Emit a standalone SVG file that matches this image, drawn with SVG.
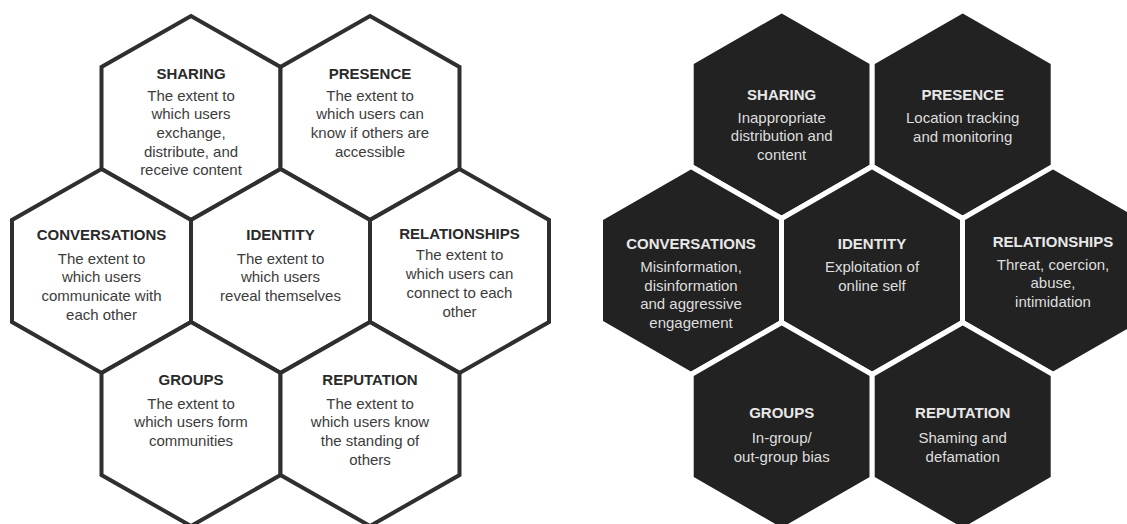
<svg xmlns="http://www.w3.org/2000/svg" xmlns:xlink="http://www.w3.org/1999/xlink" width="1127" height="524" viewBox="0 0 1127 524">
  <style>
    .hexL { fill: #ffffff; stroke: #2f2f2f; stroke-width: 4; stroke-linejoin: miter; }
    .hexR { fill: #222222; stroke: #ffffff; stroke-width: 5; stroke-linejoin: miter; }
    text { font-family: "Liberation Sans", Arial, sans-serif; font-size: 15px; text-anchor: middle; }
    .tL { font-weight: bold; fill: #2a2a2a; }
    .bL { fill: #3c3c3c; }
    .tR { font-weight: bold; fill: #e8e8e8; }
    .bR { fill: #dedede; }
  </style>
  <defs>
    <polygon id="hL" points="0,-102 89.5,-51 89.5,51 0,102 -89.5,51 -89.5,-51"/>
    <polygon id="hR" points="0,-104 90.5,-52 90.5,52 0,104 -90.5,52 -90.5,-52"/>
  </defs>
  <rect width="1127" height="524" fill="#ffffff"/>

  <!-- Left: definitions -->
  <g id="left-sharing">
    <use xlink:href="#hL" href="#hL" class="hexL" transform="translate(191,118)"/>
    <text class="tL" x="191" y="78.5">SHARING</text>
    <text class="bL"><tspan x="191" y="100.5">The extent to</tspan><tspan x="191" y="119.2">which users</tspan><tspan x="191" y="137.9">exchange,</tspan><tspan x="191" y="156.6">distribute, and</tspan><tspan x="191" y="175.3">receive content</tspan></text>
  </g>
  <g id="left-presence">
    <use xlink:href="#hL" href="#hL" class="hexL" transform="translate(370,118)"/>
    <text class="tL" x="370" y="78.5">PRESENCE</text>
    <text class="bL"><tspan x="370" y="100.5">The extent to</tspan><tspan x="370" y="119.2">which users can</tspan><tspan x="370" y="137.9">know if others are</tspan><tspan x="370" y="156.6">accessible</tspan></text>
  </g>
  <g id="left-conversations">
    <use xlink:href="#hL" href="#hL" class="hexL" transform="translate(101.5,271)"/>
    <text class="tL" x="101.5" y="240.4">CONVERSATIONS</text>
    <text class="bL"><tspan x="101.5" y="263.7">The extent to</tspan><tspan x="101.5" y="282.4">which users</tspan><tspan x="101.5" y="301.1">communicate with</tspan><tspan x="101.5" y="319.8">each other</tspan></text>
  </g>
  <g id="left-identity">
    <use xlink:href="#hL" href="#hL" class="hexL" transform="translate(280.5,271)"/>
    <text class="tL" x="280.5" y="240.4">IDENTITY</text>
    <text class="bL"><tspan x="280.5" y="263.7">The extent to</tspan><tspan x="280.5" y="282.4">which users</tspan><tspan x="280.5" y="301.1">reveal themselves</tspan></text>
  </g>
  <g id="left-relationships">
    <use xlink:href="#hL" href="#hL" class="hexL" transform="translate(459.5,271)"/>
    <text class="tL" x="459.5" y="238.7">RELATIONSHIPS</text>
    <text class="bL"><tspan x="459.5" y="260.4">The extent to</tspan><tspan x="459.5" y="279.1">which users can</tspan><tspan x="459.5" y="297.8">connect to each</tspan><tspan x="459.5" y="316.5">other</tspan></text>
  </g>
  <g id="left-groups">
    <use xlink:href="#hL" href="#hL" class="hexL" transform="translate(191,424)"/>
    <text class="tL" x="191" y="385.4">GROUPS</text>
    <text class="bL"><tspan x="191" y="408.7">The extent to</tspan><tspan x="191" y="427.4">which users form</tspan><tspan x="191" y="446.1">communities</tspan></text>
  </g>
  <g id="left-reputation">
    <use xlink:href="#hL" href="#hL" class="hexL" transform="translate(370,424)"/>
    <text class="tL" x="370" y="385.4">REPUTATION</text>
    <text class="bL"><tspan x="370" y="408.7">The extent to</tspan><tspan x="370" y="427.4">which users know</tspan><tspan x="370" y="446.1">the standing of</tspan><tspan x="370" y="464.8">others</tspan></text>
  </g>

  <!-- Right: risks -->
  <g id="right-sharing">
    <use xlink:href="#hR" href="#hR" class="hexR" transform="translate(781.7,114.5)"/>
    <text class="tR" x="781.7" y="100.4">SHARING</text>
    <text class="bR"><tspan x="781.7" y="122.7">Inappropriate</tspan><tspan x="781.7" y="141.3">distribution and</tspan><tspan x="781.7" y="159.9">content</tspan></text>
  </g>
  <g id="right-presence">
    <use xlink:href="#hR" href="#hR" class="hexR" transform="translate(962.7,114.5)"/>
    <text class="tR" x="962.7" y="100.4">PRESENCE</text>
    <text class="bR"><tspan x="962.7" y="123.2">Location tracking</tspan><tspan x="962.7" y="141.8">and monitoring</tspan></text>
  </g>
  <g id="right-conversations">
    <use xlink:href="#hR" href="#hR" class="hexR" transform="translate(691,270.5)"/>
    <text class="tR" x="691" y="248.7">CONVERSATIONS</text>
    <text class="bR"><tspan x="691" y="272">Misinformation,</tspan><tspan x="691" y="290.6">disinformation</tspan><tspan x="691" y="309.2">and aggressive</tspan><tspan x="691" y="327.8">engagement</tspan></text>
  </g>
  <g id="right-identity">
    <use xlink:href="#hR" href="#hR" class="hexR" transform="translate(872,270.5)"/>
    <text class="tR" x="872" y="248.7">IDENTITY</text>
    <text class="bR"><tspan x="872" y="272">Exploitation of</tspan><tspan x="872" y="290.6">online self</tspan></text>
  </g>
  <g id="right-relationships">
    <use xlink:href="#hR" href="#hR" class="hexR" transform="translate(1053,270.5)"/>
    <text class="tR" x="1053" y="247">RELATIONSHIPS</text>
    <text class="bR"><tspan x="1053" y="269.7">Threat, coercion,</tspan><tspan x="1053" y="288.3">abuse,</tspan><tspan x="1053" y="306.9">intimidation</tspan></text>
  </g>
  <g id="right-groups">
    <use xlink:href="#hR" href="#hR" class="hexR" transform="translate(781.7,426.5)"/>
    <text class="tR" x="781.7" y="418">GROUPS</text>
    <text class="bR"><tspan x="781.7" y="443">In-group/</tspan><tspan x="781.7" y="461.6">out-group bias</tspan></text>
  </g>
  <g id="right-reputation">
    <use xlink:href="#hR" href="#hR" class="hexR" transform="translate(962.7,426.5)"/>
    <text class="tR" x="962.7" y="418">REPUTATION</text>
    <text class="bR"><tspan x="962.7" y="443">Shaming and</tspan><tspan x="962.7" y="461.6">defamation</tspan></text>
  </g>

  <g id="connectors"/>
</svg>
